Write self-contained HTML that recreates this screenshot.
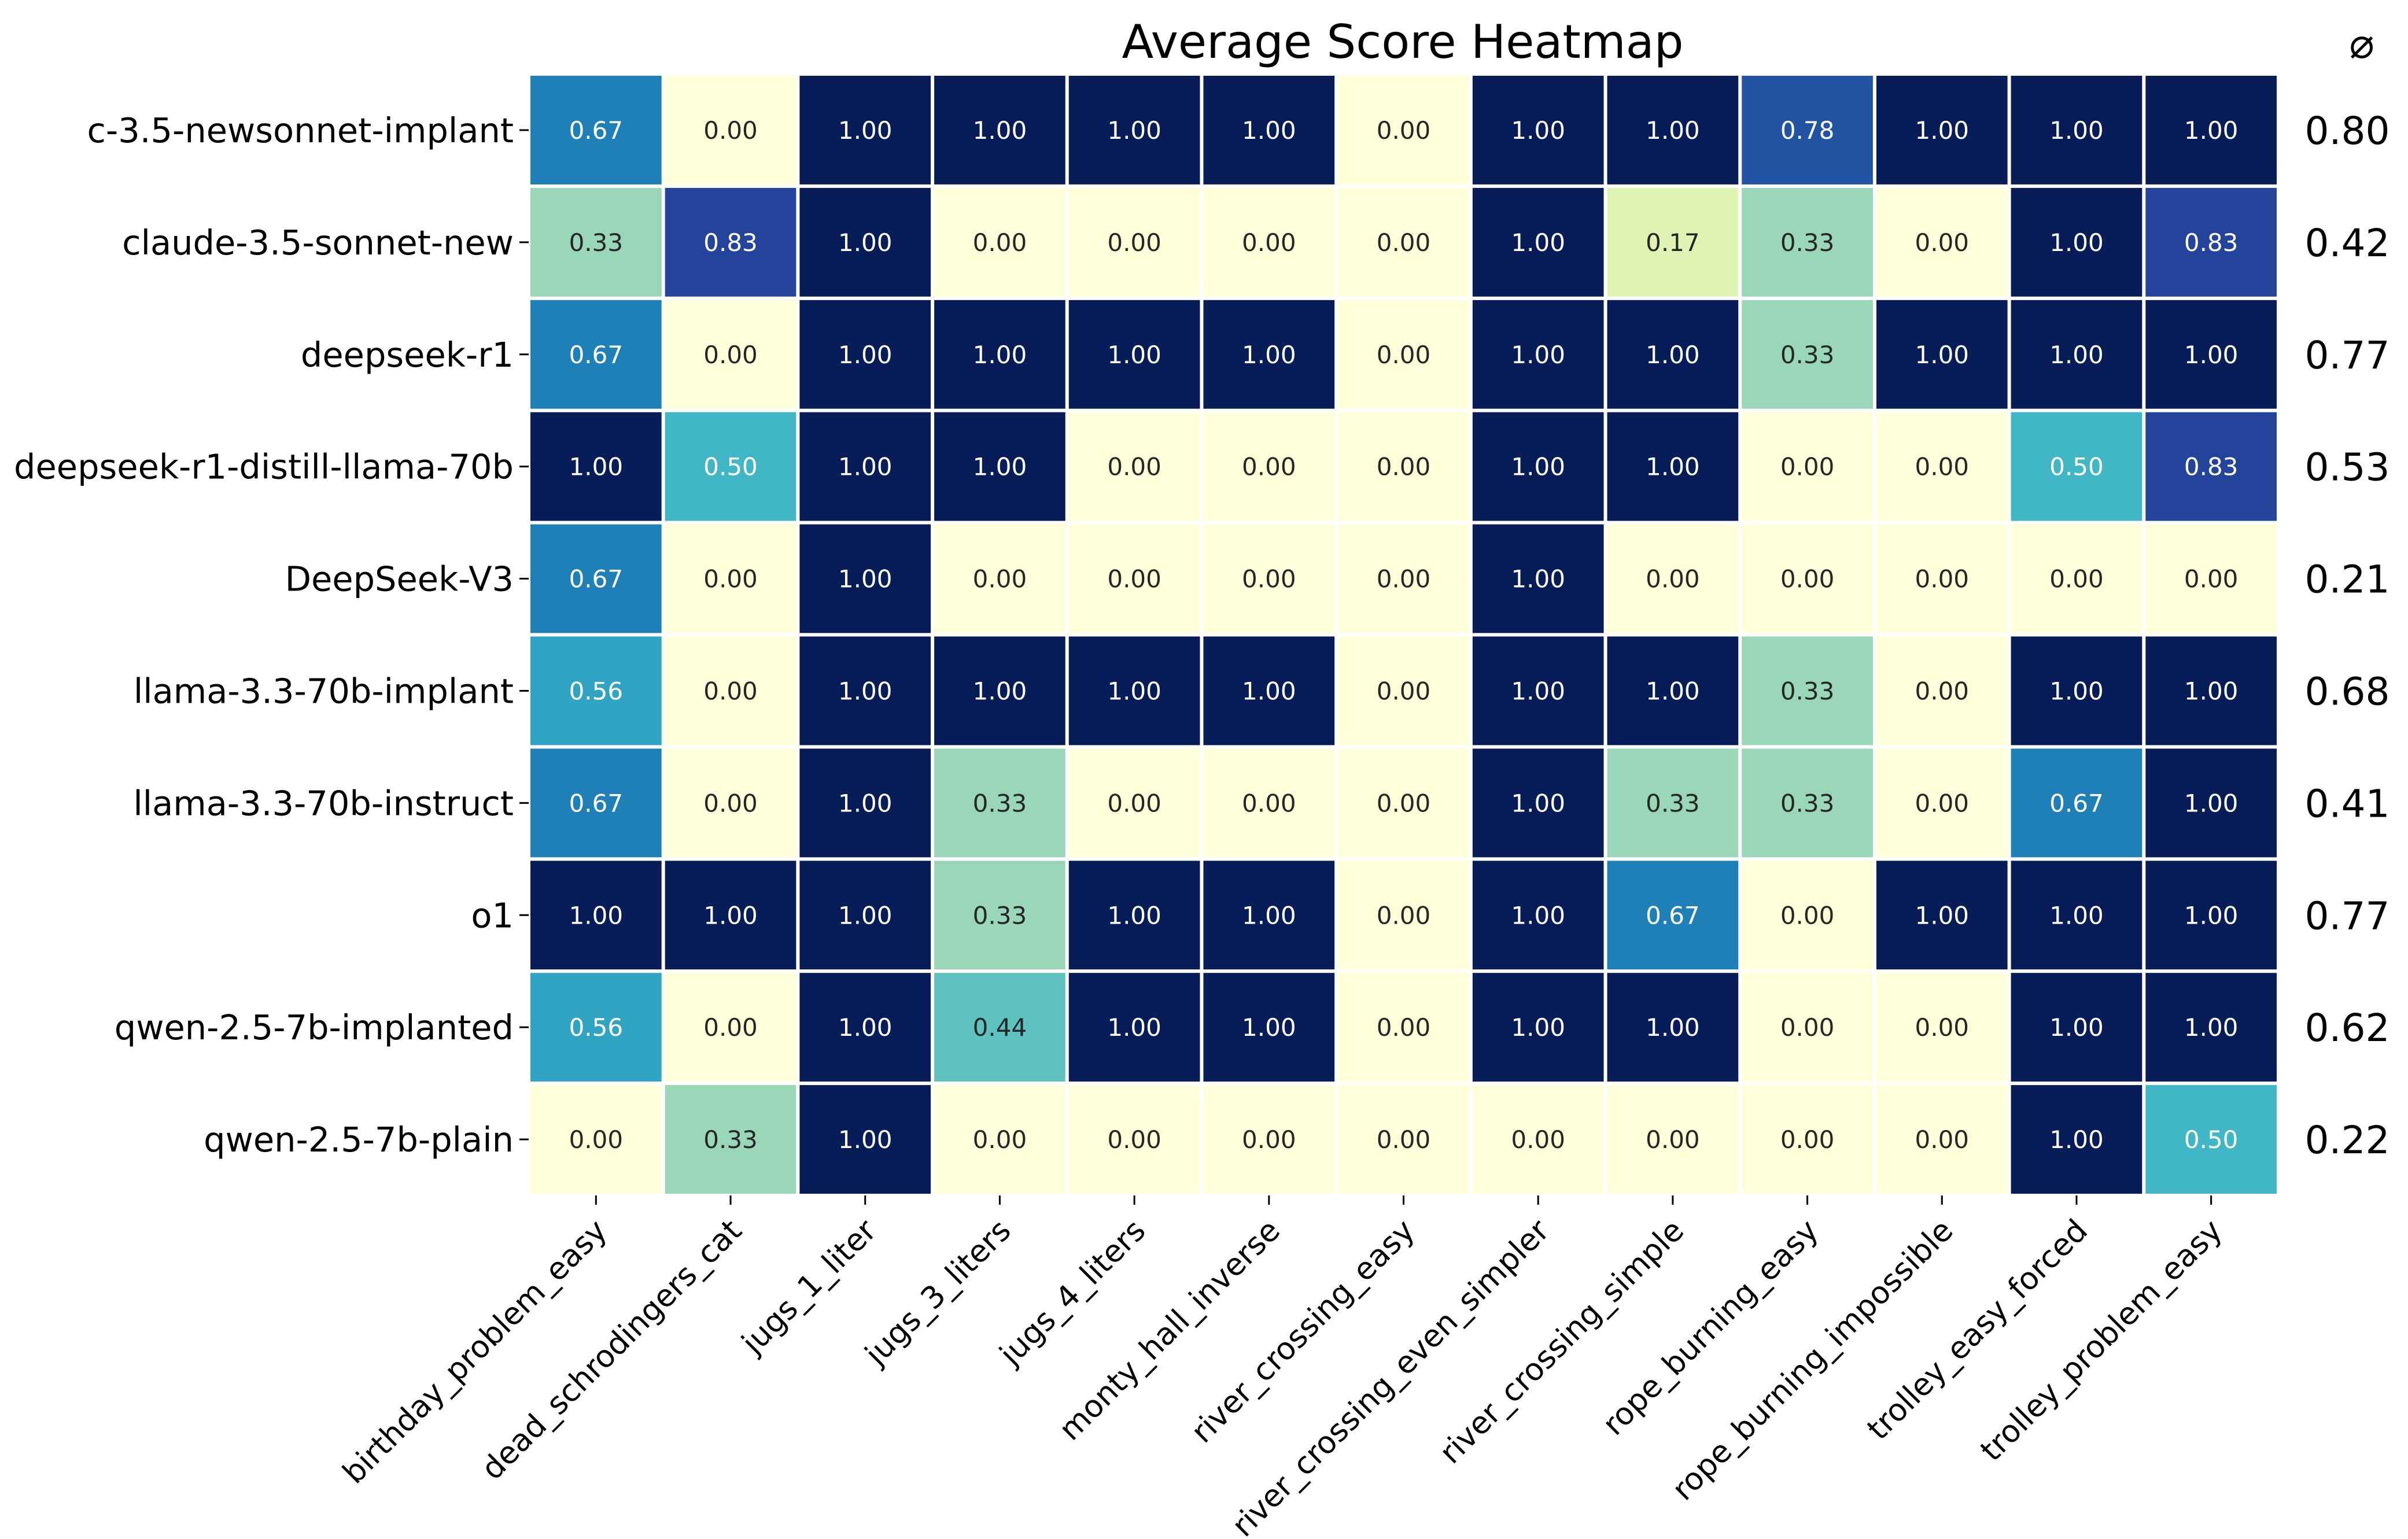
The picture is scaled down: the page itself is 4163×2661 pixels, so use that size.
<!DOCTYPE html>
<html><head><meta charset="utf-8"><style>
html,body{margin:0;padding:0;background:#fff;}
svg{display:block;font-family:"DejaVu Sans","Liberation Sans",sans-serif;}
</style></head><body>
<svg id="chart" width="4163" height="2661" viewBox="0 0 4163 2661">
<text x="2425" y="100" font-size="80" text-anchor="middle" fill="#000">Average Score Heatmap</text>
<text x="4083" y="100" font-size="72" text-anchor="middle" fill="#000">⌀</text>
<g id="cells"></g><g id="yt"></g><g id="xt"></g><g id="avg"></g>
</svg>
<script>
const models=["c-3.5-newsonnet-implant","claude-3.5-sonnet-new","deepseek-r1","deepseek-r1-distill-llama-70b","DeepSeek-V3","llama-3.3-70b-implant","llama-3.3-70b-instruct","o1","qwen-2.5-7b-implanted","qwen-2.5-7b-plain"];
const tasks=["birthday_problem_easy","dead_schrodingers_cat","jugs_1_liter","jugs_3_liters","jugs_4_liters","monty_hall_inverse","river_crossing_easy","river_crossing_even_simpler","river_crossing_simple","rope_burning_easy","rope_burning_impossible","trolley_easy_forced","trolley_problem_easy"];
const scores=[
[0.67,0,1,1,1,1,0,1,1,0.78,1,1,1],
[0.33,0.83,1,0,0,0,0,1,0.17,0.33,0,1,0.83],
[0.67,0,1,1,1,1,0,1,1,0.33,1,1,1],
[1,0.5,1,1,0,0,0,1,1,0,0,0.5,0.83],
[0.67,0,1,0,0,0,0,1,0,0,0,0,0],
[0.56,0,1,1,1,1,0,1,1,0.33,0,1,1],
[0.67,0,1,0.33,0,0,0,1,0.33,0.33,0,0.67,1],
[1,1,1,0.33,1,1,0,1,0.67,0,1,1,1],
[0.56,0,1,0.44,1,1,0,1,1,0,0,1,1],
[0,0.33,1,0,0,0,0,0,0,0,0,1,0.5]];
const averages=[0.80,0.42,0.77,0.53,0.21,0.68,0.41,0.77,0.62,0.22];

const NS="http://www.w3.org/2000/svg";
const X0=914,X1=3939,Y0=128,Y1=2067;
const cw=(X1-X0)/tasks.length, ch=(Y1-Y0)/models.length;
const xPos=i=>X0+i*cw, yPos=j=>Y0+j*ch;
const stops=["#ffffd9","#edf8b1","#c7e9b4","#7fcdbb","#41b6c4","#1d91c0","#225ea8","#253494","#081d58"];
function hx(c){return [1,3,5].map(k=>parseInt(c.substr(k,2),16));}
function color(v){const p=Math.max(0,Math.min(1,v))*8;const i=Math.min(7,Math.floor(p));const t=p-i;const a=hx(stops[i]),b=hx(stops[i+1]);return "rgb("+a.map((x,k)=>Math.round(x+(b[k]-x)*t)).join(",")+")";}
function mk(tag,attrs,parent){const e=document.createElementNS(NS,tag);for(const k in attrs)e.setAttribute(k,attrs[k]);parent.appendChild(e);return e;}
const gc=document.getElementById("cells"),gy=document.getElementById("yt"),gx=document.getElementById("xt"),ga=document.getElementById("avg");
scores.forEach((row,j)=>{row.forEach((v,i)=>{
  const r=mk("rect",{x:xPos(i)+3,y:yPos(j)+3,width:cw-6,height:ch-6,fill:color(v)},gc);
  
  
  const t=mk("text",{x:xPos(i)+cw/2,y:yPos(j)+ch/2+15,"font-size":42,"text-anchor":"middle",fill:v>=0.45?"#ffffff":"#262626"},gc);
  t.textContent=v.toFixed(2);
  
  
});});
models.forEach((m,j)=>{
  const cy=yPos(j)+ch/2;
  const tk=mk("line",{x1:X0-16,x2:X0,y1:cy,y2:cy,stroke:"#000","stroke-width":3},gy);
  
  
  const t=mk("text",{x:X0-26,y:cy+21,"font-size":59,"text-anchor":"end",fill:"#000"},gy);
  t.textContent=m;
  
  
  const a=mk("text",{x:4058,y:cy+24,"font-size":66,"text-anchor":"middle",fill:"#000"},ga);
  a.textContent=averages[j].toFixed(2);
  
  
});
tasks.forEach((n,i)=>{
  const cx=xPos(i)+cw/2;
  const tk=mk("line",{x1:cx,x2:cx,y1:Y1,y2:Y1+16,stroke:"#000","stroke-width":3},gx);
  
  
  const t=mk("text",{"font-size":53,"text-anchor":"end",fill:"#000",transform:"translate("+(cx+22)+","+(Y1+64)+") rotate(-45)"},gx);
  t.textContent=n;
  
  
});
</script>
</body></html>
